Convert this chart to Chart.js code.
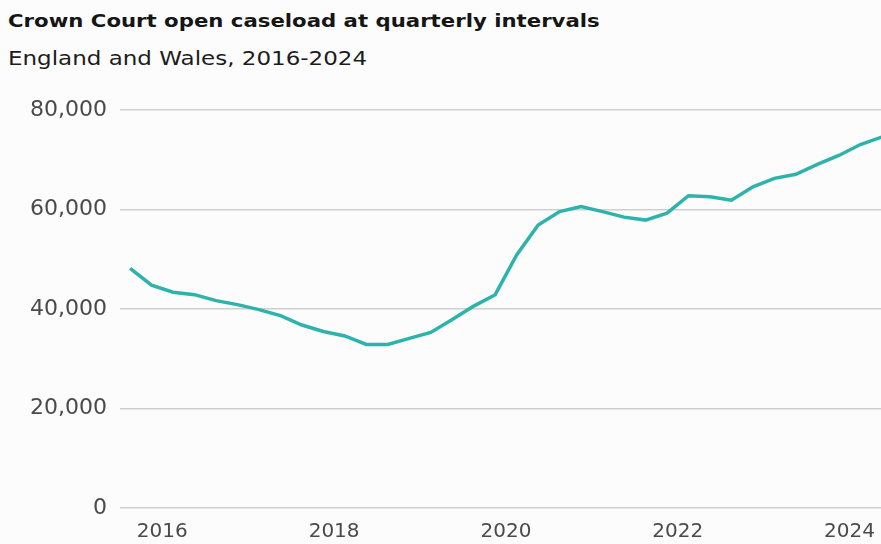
<!DOCTYPE html>
<html lang="en">
<head>
    <meta charset="UTF-8">
    <title>Crown Court open caseload</title>
    <script src="https://cdn.jsdelivr.net/npm/chart.js"></script>
    <style>
        * { margin: 0; padding: 0; box-sizing: border-box; }
        body { width: 881px; height: 544px; background: #fcfcfc; font-family: 'DejaVu Sans', sans-serif; position: relative; overflow: hidden; }
        h1, h2 { position: absolute; left: 8px; white-space: nowrap; transform-origin: 0 0; }
        h1 { top: 10px; font-size: 18px; font-weight: 700; color: #151515; transform: scaleX(1.18); }
        h2 { top: 46px; font-size: 20px; font-weight: 400; color: #1c1c1c; transform: scaleX(1.15); }
        .wrap { position: absolute; left: 0; top: 84px; width: 887px; height: 460px; }
    </style>
</head>
<body>
    <h1>Crown Court open caseload at quarterly intervals</h1>
    <h2>England and Wales, 2016-2024</h2>
    <div class="wrap"><canvas id="caseload"></canvas></div>
    <script>
        // quarterly open caseload, oldest first
        const caseload = [
            48200, 44800, 43400, 42900, 41700, 40900, 39900, 38700, 36800, 35500,
            34600, 32900, 32900, 34100, 35300, 37900, 40600, 42900, 50900, 56900,
            59600, 60600, 59600, 58500, 57900, 59300, 62800, 62600, 61900, 64600,
            66300, 67100, 69100, 70900, 73100, 74600
        ];
        const years = ['2016', '2018', '2020', '2022', '2024'];
        const yearPos = [1.5, 9.5, 17.5, 25.5, 33.5];
        const yTicks = [0, 20000, 40000, 60000, 80000];

        new Chart(document.getElementById('caseload'), {
            type: 'line',
            data: {
                datasets: [{
                    data: caseload.map((v, i) => ({ x: i, y: v })),
                    borderColor: '#2db3ab',
                    borderWidth: 3.5,
                    pointRadius: 0,
                    tension: 0,
                    fill: false
                }]
            },
            options: {
                responsive: true,
                maintainAspectRatio: false,
                animation: false,
                layout: { padding: { top: 10, right: 0, left: 0, bottom: 0 } },
                plugins: { legend: { display: false }, tooltip: { enabled: false } },
                scales: {
                    x: {
                        type: 'linear',
                        min: -0.47,
                        max: caseload.length - 1,
                        afterBuildTicks: s => { s.ticks = yearPos.map(v => ({ value: v })); },
                        afterFit: s => { s.height = 36; },
                        grid: { display: false, drawTicks: false },
                        border: { display: false },
                        ticks: {
                            padding: 12,
                            autoSkip: false,
                            maxRotation: 0,
                            color: '#4a4a4a',
                            font: { family: "'DejaVu Sans', sans-serif", size: 20 },
                            callback: v => years[yearPos.indexOf(v)]
                        }
                    },
                    y: {
                        min: 0,
                        max: 80000,
                        afterBuildTicks: s => { s.ticks = yTicks.map(v => ({ value: v })); },
                        afterFit: s => { s.width = 120; },
                        grid: { color: '#cfcfcf', lineWidth: 1.5, drawTicks: false },
                        border: { display: false },
                        ticks: {
                            padding: 13,
                            color: '#4a4a4a',
                            font: { family: "'DejaVu Sans', sans-serif", size: 22 },
                            callback: v => v.toLocaleString('en-GB')
                        }
                    }
                }
            }
        });
    </script>
</body>
</html>
